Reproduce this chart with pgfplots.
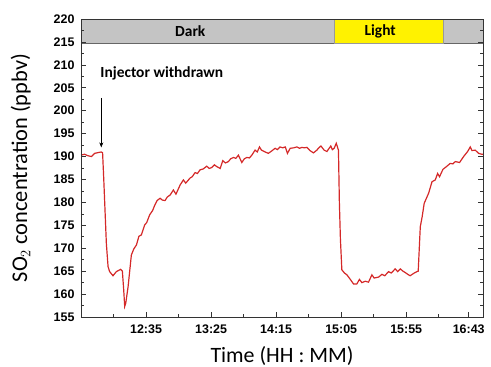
\documentclass[border=0pt]{standalone}
\usepackage{pgfplots}
\pgfplotsset{compat=1.18}
\usetikzlibrary{arrows.meta}
\usepackage{fontspec}
\setmainfont{Carlito}
\newfontfamily\tickfont{Liberation Sans}
\definecolor{bandgray}{RGB}{196,196,196}
\definecolor{lineRed}{RGB}{212,40,40}
\begin{document}
\begin{tikzpicture}
\useasboundingbox (-81bp,-50bp) rectangle (410bp,317bp);
\begin{axis}[
  at={(0,0)}, anchor=south west,
  scale only axis, width=402bp, height=298bp,
  xmin=0, xmax=309, ymin=155, ymax=220,
  xtick={50,100,150,200,250,298},
  xticklabels={12:35,13:25,14:15,15:05,15:55,16:43},
  minor xtick={25,75,125,175,225,275},
  ytick={155,160,...,220},
  minor y tick num=1,
  xtick pos=bottom,
  ytick pos=both,
  tick align=inside,
  major tick length=5bp, minor tick length=3bp,
  tick style={black!80, line width=0.6pt},
  axis line style={black!80, line width=0.8pt},
  ticklabel style={font=\tickfont\bfseries\fontsize{12.5}{12.5}\selectfont},
  xticklabel style={yshift=-4bp},
  yticklabel style={xshift=-3bp},
  /pgf/number format/assume math mode=true,
  xlabel={Time (HH : MM)},
  ylabel={SO$_2$ concentration (ppbv)},
  xlabel style={font=\fontsize{22}{22}\selectfont, yshift=-6bp},
  ylabel style={font=\fontsize{22.5}{22.5}\selectfont, yshift=16bp},
  clip=true,
  axis on top,
]
\filldraw[fill=bandgray, draw=black!60, line width=0.6pt] (axis cs:0,214.8) rectangle (axis cs:309,220);
\filldraw[fill=yellow, draw=black!40, line width=0.4pt] (axis cs:194.6,214.8) rectangle (axis cs:278.7,220);
\node[font=\bfseries\fontsize{15.5}{15.5}\selectfont] at (axis cs:84,217.4) {Dark};
\node[font=\bfseries\fontsize{15.5}{15.5}\selectfont] at (axis cs:230,217.4) {Light};
\node[font=\bfseries\fontsize{15.5}{15.5}\selectfont, anchor=west, inner sep=0pt] at (axis cs:14.8,208.2) {Injector withdrawn};
\draw[-{Stealth[length=5bp,width=4bp]}, line width=0.5pt] (axis cs:15.6,202.8) -- (axis cs:15.6,192.0);
\addplot[lineRed, line width=1.2pt] coordinates {
(0,190.3) (2.8,190.5) (5,190.2) (8,190.0) (10.5,190.7) (15.6,191.0) (16.6,190.8)
(17.5,185) (18.5,178) (19.5,171) (20.8,166) (22,164.9) (24.6,164.0) (27.2,164.9)
(30.5,165.4) (31.8,165.0) (32.8,161) (33.6,157.3) (34.4,158.0) (36.2,161.6) (38.7,168.5)
(40.5,169.8) (42.6,170.7) (44.5,172.6) (46.4,172.9) (49,175.1) (50.5,175.6) (52.8,177.3)
(55,178.2) (56.7,179.4) (58.5,180.4) (60.8,180.9) (62.5,180.5) (64.6,180.4) (66.4,181.2)
(68.5,181.6) (71,182.7) (73,181.8) (76.2,183.8) (78.7,184.9) (80.5,184.2) (83.8,185.3)
(85.5,185.6) (87.7,186.5) (89.5,186.3) (91.5,187.1) (94,187.3) (96.7,187.9) (98.5,187.4)
(100.5,187.6) (102.5,188.2) (104.4,187.8) (107,187.4) (109,189.1) (111,188.6) (113.3,188.9)
(115,189.5) (117.2,189.8) (119,189.6) (121,190.3) (123.6,188.7) (125.5,189.5) (127.5,189.8)
(129.5,189.7) (131.3,190.3) (133.8,191.4) (135.5,191.0) (137.2,192.1) (138.7,191.4) (141.5,191.0)
(144,190.7) (146.5,191.2) (149.2,191.8) (151,191.5) (153,192.1) (155,191.9) (157,192.1)
(158.7,190.7) (160.8,191.8) (163.5,191.9) (166,192.1) (168,191.8) (169.8,192.0) (171.8,191.9)
(173.6,192.0) (176,191.3) (178.7,190.8) (181.3,191.4) (182.8,191.9) (184.4,192.3) (186.9,191.4)
(189,191.1) (192,192.3) (193.2,191.5) (194.6,191.8) (196.2,192.9) (197.9,191.4)
(198.6,180) (199.4,172) (200.5,165.3) (202.5,164.6) (204.4,164.2) (207,163.2) (209.5,162.2)
(212,162.2) (214,163.2) (215.9,162.5) (218.5,162.8) (221,162.6) (223.6,164.2) (225.3,163.5)
(228.7,163.7) (231.3,164.3) (233.5,164.0) (236.4,164.9) (238.5,164.6) (241.5,165.5) (243.4,164.9)
(245.4,165.5) (247.5,165.0) (249.2,164.7) (251.2,164.3) (253,164.0) (255.6,164.5) (258.2,164.9)
(259.2,165.0) (260.8,174.7) (262.2,176.8) (263.8,179.8) (265.5,180.9) (267.2,182.0) (269.8,184.5)
(272.3,184.9) (274.1,186.3) (275.6,185.6) (278.2,187.2) (281.3,187.9) (283.8,188.5) (285.8,188.4)
(287.7,188.9) (291,188.7) (294.1,190.0) (297.2,191.1) (299.2,192.1) (300.5,191.3) (303,191.4)
(305.6,190.7) (308,190.5) (309,190.5)
};
\end{axis}
\end{tikzpicture}
\end{document}
